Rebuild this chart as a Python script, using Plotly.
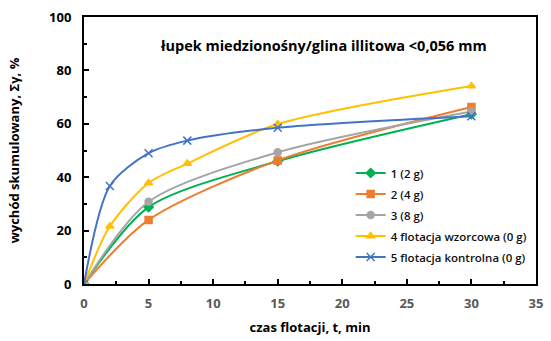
import plotly.graph_objects as go

# Flotation time, min
t_short = [0, 5, 15, 30]
t_long = [0, 2, 5, 8, 15, 30]

# Cumulative yield, %
s1 = [0, 28.8, 46.0, 63.6]
s2 = [0, 24.0, 46.3, 66.3]
s3 = [0, 30.8, 49.3, 64.6]
s4 = [0, 21.6, 37.8, 45.1, 59.9, 74.2]
s5 = [0, 36.7, 49.0, 53.7, 58.5, 62.8]

names = ["1 (2 g)", "2 (4 g)", "3 (8 g)",
         "4 flotacja wzorcowa (0 g)", "5 flotacja kontrolna (0 g)"]
colors = ["#00B050", "#ED7D31", "#A5A5A5", "#FFC000", "#4472C4"]
symbols = ["diamond", "square", "circle", "triangle-up", "x-thin"]
xs = [t_short, t_short, t_short, t_long, t_long]
ys = [s1, s2, s3, s4, s5]

fig = go.Figure()
for i, (x, y, n, c, s) in enumerate(zip(xs, ys, names, colors, symbols)):
    fig.add_trace(go.Scatter(
        x=x, y=y, name=n, mode="lines+markers", legendgroup=f"g{i}",
        line=dict(color=c, width=2, shape="spline", smoothing=0.8),
        marker=dict(symbol=s, size=7 if s != "x-thin" else 8, color=c,
                    line=dict(color=c, width=1.5)),
    ))

font_main = "Open Sans, Liberation Sans, sans-serif"

fig.update_layout(
    width=551, height=341,
    margin=dict(l=84, r=8, t=13, b=55),
    paper_bgcolor="white", plot_bgcolor="white",
    font=dict(family=font_main, color="#000000"),
    showlegend=True,
    legend=dict(x=0.59, y=0.47, xanchor="left", yanchor="top",
                bgcolor="rgba(0,0,0,0)", tracegroupgap=2,
                font=dict(size=11.5, color="#111111", weight=600), itemwidth=30),
    annotations=[dict(
        text="<b>łupek miedzionośny/glina illitowa <0,056 mm</b>",
        x=0.53, y=0.893, xref="paper", yref="paper", showarrow=False,
        xanchor="center", yanchor="middle",
        font=dict(size=14.5, color="#000000"),
    )],
)

fig.update_xaxes(
    range=[0, 35], dtick=5, tick0=0,
    showgrid=False, zeroline=False,
    showline=True, linecolor="black", linewidth=2, mirror=True,
    ticks="inside", ticklen=5, tickwidth=2, tickcolor="black",
    minor=dict(dtick=2.5, ticks="inside", ticklen=3, tickwidth=1.5, tickcolor="black"),
    tickfont=dict(size=13, color="#595959", family=font_main, weight="bold"),
    ticklabelstandoff=6,
    title=dict(text="<b>czas flotacji, t, min</b>", font=dict(size=13), standoff=12),
)
fig.update_yaxes(
    range=[0, 100], dtick=20, tick0=0,
    showgrid=False, zeroline=False,
    showline=True, linecolor="black", linewidth=2, mirror=True,
    ticks="inside", ticklen=5, tickwidth=2, tickcolor="black",
    minor=dict(dtick=10, ticks="inside", ticklen=3, tickwidth=1.5, tickcolor="black"),
    tickfont=dict(size=13, color="#000000", family=font_main, weight="bold"),
    ticklabelstandoff=8,
    title=dict(text="<b>wychód skumulowany, Σγ, %</b>", font=dict(size=13), standoff=27),
)

fig.write_html("out.html")
